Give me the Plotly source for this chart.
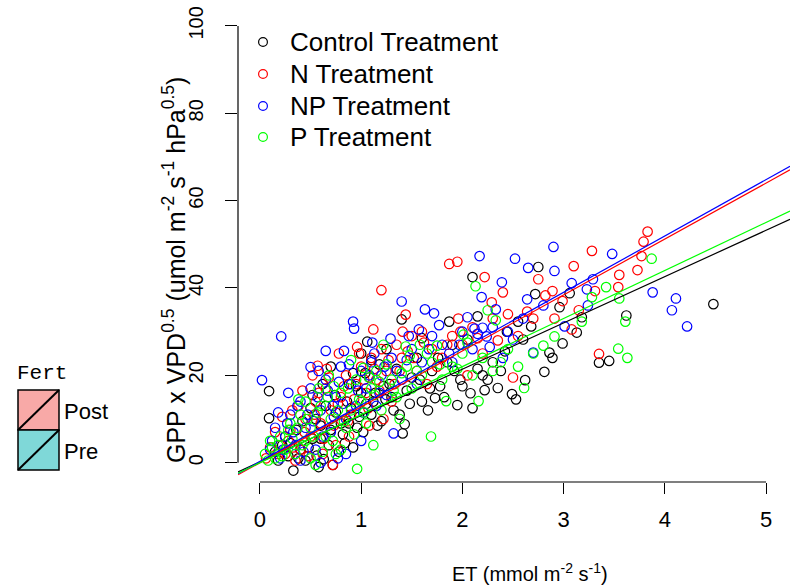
import plotly.graph_objects as go

# ---------------- data ----------------
ctrl_et = [0.09, 0.09, 0.33, 0.28, 0.40, 0.45, 0.52, 0.56, 0.60, 0.63, 0.68, 0.72, 0.75, 0.78, 0.82, 0.86, 0.88, 0.92,
           0.95, 0.98, 1.02, 1.05, 1.08, 1.10, 1.14, 1.18, 1.20, 1.24, 1.28, 1.32, 1.35, 1.41, 1.43, 1.45, 1.50, 1.55,
           1.60, 1.66, 1.70, 1.73, 1.78, 1.85, 1.95, 1.98, 2.05, 2.08, 2.10, 2.15, 2.22, 2.30, 2.35, 2.42, 2.49, 2.53,
           2.60, 2.62, 2.68, 2.72, 2.75, 2.81, 2.86, 2.89, 2.96, 2.99, 3.06, 3.13, 3.18, 3.35, 3.45, 3.62, 4.48, 1.06,
           1.40, 1.87, 2.15, 2.10, 2.44, 2.55, 0.62, 0.70, 0.50, 0.36, 0.22, 0.92, 1.00, 1.25, 0.18, 2.20, 1.60, 1.90]
ctrl_gpp = [16.4, 10.2, -1.8, 1.5, 3.0, 0.5, 5.5, 1.6, 8.5, 0.8, 4.0, -0.5, 11.5, 2.5, 6.5, 14.0, 9.0, 3.5,
            17.5, 10.5, 7.0, 13.5, 19.5, 11.0, 16.0, 22.5, 9.5, 14.5, 18.0, 12.0, 21.5, 6.7, 8.8, 16.5, 19.5, 24.0,
            14.0, 12.0, 21.0, 14.8, 17.5, 23.0, 13.2, 19.0, 28.2, 15.9, 12.5, 21.5, 16.6, 23.0, 17.1, 25.5, 15.7, 14.5,
            28.2, 18.9, 31.2, 38.6, 44.8, 20.8, 25.2, 24.0, 35.6, 27.3, 38.8, 29.8, 33.3, 22.9, 23.3, 33.7, 36.3, 27.7,
            32.8, 32.3, 33.5, 42.5, 30.0, 32.3, 18.0, 22.0, 12.5, 7.5, 4.0, 20.5, 25.0, 26.0, 0.5, 20.0, 28.5, 27.0]
ctrl_et += [0.15, 0.25, 0.30, 0.38, 0.42, 0.48, 0.55, 0.58, 0.65, 0.70, 0.74, 0.80, 0.84, 0.90, 0.96, 1.00, 1.04, 1.12,
            1.16, 1.22, 1.30, 1.38, 1.48, 1.58, 1.68, 1.76, 1.82, 1.92, 2.00, 2.25, 2.38, 0.52, 0.60, 0.88, 1.10]
ctrl_gpp += [2.5, 6.0, 4.5, 1.0, 9.5, 3.5, 10.0, -1.0, 13.0, 7.5, 15.5, 9.0, 4.5, 12.5, 8.0, 16.0, 20.5, 14.0,
             8.5, 17.5, 15.0, 11.0, 13.5, 19.0, 17.0, 24.0, 15.0, 21.0, 17.5, 19.0, 21.0, 15.5, 5.5, 18.0, 23.5]

n_et = [0.06, 0.15, 0.20, 0.25, 0.30, 0.35, 0.40, 0.45, 0.50, 0.52, 0.55, 0.57, 0.60, 0.65, 0.70, 0.72, 0.75, 0.80,
        0.85, 0.90, 0.95, 1.00, 1.05, 1.10, 1.15, 1.20, 1.22, 1.25, 1.30, 1.35, 1.40, 1.41, 1.44, 1.50, 1.55, 1.60,
        1.70, 1.80, 1.90, 1.96, 2.00, 2.10, 2.20, 2.29, 2.35, 2.45, 2.55, 2.64, 2.70, 1.20, 1.87, 1.95, 2.22, 2.40,
        2.75, 2.82, 2.89, 2.91, 2.99, 3.08, 3.10, 3.15, 3.28, 3.31, 3.35, 3.54, 3.55, 3.73, 3.77, 3.79, 3.83, 0.32,
        0.42, 0.88, 1.08, 0.62, 0.78, 1.65, 2.05, 2.50, 0.10]
n_gpp = [1.0, 7.0, 4.0, 2.0, 7.5, 0.5, 3.0, 10.0, 6.0, 20.0, 14.0, 22.2, 9.0, 17.0, 12.0, -0.5, 4.0, 15.0,
         20.0, 11.0, 18.0, 22.0, 16.0, 24.0, 19.0, 26.0, 10.0, 21.0, 14.0, 27.0, 24.0, 30.0, 33.9, 29.0, 21.0, 30.0,
         26.0, 24.0, 29.0, 33.0, 27.0, 31.0, 25.0, 36.7, 28.0, 34.0, 29.0, 34.6, 33.0, 39.5, 45.5, 46.0, 42.5, 39.0,
         42.0, 38.3, 39.3, 33.0, 37.0, 30.5, 45.0, 34.9, 48.5, 39.3, 24.9, 40.2, 43.0, 44.1, 47.3, 50.6, 52.9, 12.0,
         16.5, 6.0, 8.5, 2.0, 25.0, 18.0, 20.0, 19.5, 3.5]
n_et += [0.18, 0.22, 0.28, 0.33, 0.38, 0.44, 0.48, 0.54, 0.58, 0.63, 0.68, 0.73, 0.77, 0.83, 0.87, 0.93, 0.98, 1.03,
         1.07, 1.13, 1.18, 1.27, 1.33, 1.38, 1.46, 1.52, 1.62, 1.75, 1.85, 1.98, 2.15, 2.30, 0.66, 0.96, 1.12]
n_gpp += [2.0, 10.5, 5.0, 3.5, 13.0, 7.0, 1.5, 11.0, 16.0, 5.5, 19.5, 8.5, 13.5, 17.5, 9.5, 14.5, 25.0, 19.0,
          12.5, 21.5, 16.5, 23.5, 18.0, 21.0, 25.5, 24.0, 27.5, 22.0, 27.0, 30.0, 28.5, 33.0, 21.5, 26.5, 30.5]

np_et = [0.02, 0.21, 0.10, 0.15, 0.20, 0.25, 0.30, 0.35, 0.40, 0.45, 0.50, 0.50, 0.55, 0.60, 0.65, 0.65, 0.70, 0.75,
         0.80, 0.83, 0.85, 0.90, 0.92, 0.93, 0.95, 1.00, 1.05, 1.10, 1.11, 1.15, 1.20, 1.29, 1.30, 1.32, 1.40, 1.40,
         1.50, 1.60, 1.63, 1.70, 1.72, 1.80, 1.90, 2.00, 2.05, 2.10, 2.12, 2.17, 2.19, 2.20, 2.24, 2.30, 2.33, 2.39,
         2.40, 2.50, 2.52, 2.60, 2.64, 2.65, 2.70, 2.80, 2.90, 2.91, 3.01, 3.08, 3.23, 3.24, 3.29, 3.48, 3.88, 4.07,
         4.11, 4.22, 0.40, 0.60, 0.85, 1.00, 0.28, 0.72, 1.25, 1.55]
np_gpp = [18.9, 28.9, 3.0, 8.0, 1.0, 6.0, 11.0, 4.0, 14.0, 8.0, 17.0, 21.9, 3.0, 12.0, 19.0, 25.6, 7.0, 15.0,
          22.0, 25.6, 10.0, 18.0, 32.3, 30.7, 13.0, 21.0, 17.0, 23.0, 27.5, 13.0, 20.0, 28.4, 24.0, 6.7, 19.0, 36.9,
          26.0, 23.0, 35.1, 29.0, 34.2, 27.0, 23.0, 30.0, 33.3, 26.0, 30.7, 47.3, 37.9, 30.9, 28.9, 31.0, 35.1, 41.3,
          24.0, 28.2, 46.7, 33.0, 37.4, 44.6, 25.2, 36.0, 49.4, 43.9, 31.2, 41.1, 39.7, 36.0, 42.0, 47.8, 39.0, 34.9,
          37.6, 31.2, 0.5, 0.0, 2.0, 5.0, 16.0, 13.0, 15.5, 18.0]
np_et += [0.12, 0.18, 0.23, 0.27, 0.33, 0.37, 0.43, 0.47, 0.53, 0.57, 0.62, 0.67, 0.73, 0.78, 0.82, 0.88, 0.97, 1.02,
          1.08, 1.13, 1.18, 1.23, 1.35, 1.45, 1.47, 1.57, 1.67, 1.77, 1.87, 1.97, 2.15, 2.27, 2.45, 0.58, 0.77]
np_gpp += [5.0, 11.5, 3.0, 9.0, 7.0, 13.0, 2.5, 11.0, 9.5, 15.0, 6.0, 16.5, 10.5, 18.5, 13.5, 22.5, 16.5, 11.5,
           20.0, 25.0, 16.0, 22.0, 21.0, 23.5, 29.0, 30.5, 26.0, 31.5, 25.0, 27.0, 29.5, 26.5, 30.0, 21.0, 1.0]

p_et = [0.05, 0.10, 0.15, 0.20, 0.25, 0.30, 0.35, 0.40, 0.45, 0.50, 0.50, 0.55, 0.60, 0.65, 0.70, 0.75, 0.80, 0.80,
        0.85, 0.90, 0.95, 0.96, 1.00, 1.02, 1.05, 1.10, 1.15, 1.20, 1.22, 1.30, 1.35, 1.44, 1.45, 1.50, 1.58, 1.60,
        1.69, 1.70, 1.75, 1.80, 1.84, 1.90, 2.00, 2.01, 2.10, 2.13, 2.16, 2.20, 2.25, 2.30, 2.33, 2.45, 2.55, 2.61,
        2.70, 2.80, 2.91, 3.18, 3.28, 3.42, 3.54, 3.55, 3.61, 3.63, 3.87, 0.58, 0.38, 0.68, 1.12, 0.90, 1.38]
p_gpp = [2.0, 5.0, 1.0, 6.0, 3.0, 9.0, 2.0, 11.0, 5.0, 8.0, 1.0, -0.5, 13.0, 6.0, 10.0, 2.0, 16.0, 3.0,
         8.0, 12.0, 19.0, -1.4, 14.0, 21.7, 9.0, 17.0, 21.0, 12.0, 27.0, 19.0, 15.0, 26.6, 22.0, 17.0, 27.0, 20.0,
         6.0, 23.0, 26.8, 19.0, 14.1, 22.0, 25.0, 29.3, 20.0, 40.4, 14.1, 24.0, 34.9, 21.0, 32.6, 26.0, 22.0, 17.1,
         25.0, 26.8, 28.9, 32.3, 37.9, 40.2, 26.1, 37.6, 32.3, 24.0, 46.7, 17.0, 14.5, 20.0, 4.0, 23.5, 10.0]
p_et += [0.08, 0.12, 0.18, 0.22, 0.28, 0.32, 0.37, 0.42, 0.47, 0.53, 0.57, 0.62, 0.67, 0.72, 0.77, 0.83, 0.87, 0.93,
         0.98, 1.03, 1.08, 1.13, 1.18, 1.25, 1.32, 1.40, 1.48, 1.55, 1.65, 1.78, 1.95, 2.05, 2.38, 0.45, 0.73]
p_gpp += [0.5, 3.5, 4.0, 1.5, 7.5, 5.5, 8.0, 4.0, 10.0, 6.0, 11.5, 2.5, 15.0, 5.0, 12.0, 9.5, 17.0, 6.5,
          14.5, 11.5, 19.5, 15.5, 18.5, 22.5, 16.5, 20.5, 24.5, 21.0, 25.0, 22.5, 21.5, 27.5, 23.0, 14.0, 17.5]

treatments = ["Control Treatment", "N Treatment", "NP Treatment", "P Treatment"]
colors = ["#000000", "#FF0000", "#0000FF", "#00FF00"]
fit_intercepts = [0.2, 0.0, 0.3, 0.0]
fit_slopes = [10.6, 12.8, 12.9, 11.0]

x_ticks = [0, 1, 2, 3, 4, 5]
y_ticks = [0, 20, 40, 60, 80, 100]
fert_levels = ["Post", "Pre"]
fert_fills = ["#F8A9A7", "#7FD8D8"]

# ---------------- layout geometry ----------------
W, H = 793, 586
ML, MR, MT, MB = 238, 3, 8, 104
XR = [-0.217, 5.237]
YR = [-4.42, 104.1]
PW, PH = W - ML - MR, H - MT - MB


def px(x):
    return (x - ML) / PW


def py(y):
    return (H - MB - y) / PH


FONT = "Arial, Liberation Sans, sans-serif"

fig = go.Figure()
series = [(ctrl_et, ctrl_gpp), (n_et, n_gpp), (np_et, np_gpp), (p_et, p_gpp)]
for name, col, (xs, ys) in zip(treatments, colors, series):
    fig.add_trace(go.Scatter(x=xs, y=ys, mode="markers", name=name, showlegend=False,
                             marker=dict(symbol="circle-open", size=9.5, color=col, line=dict(width=1.2, color=col)),
                             cliponaxis=True))

for col, a, b in zip(colors, fit_intercepts, fit_slopes):
    fig.add_trace(go.Scatter(x=XR, y=[a + b * XR[0], a + b * XR[1]], mode="lines",
                             line=dict(color=col, width=1.2), showlegend=False, hoverinfo="skip"))

shapes = []
annotations = []
# R-style axis lines spanning the tick range only
shapes.append(dict(type="line", xref="x", yref="paper", x0=x_ticks[0], x1=x_ticks[-1], y0=0, y1=0,
                   line=dict(color="black", width=1.2)))
shapes.append(dict(type="line", xref="paper", yref="y", x0=0, x1=0, y0=y_ticks[0], y1=y_ticks[-1],
                   line=dict(color="black", width=1.2)))

# treatment legend (R style: open circles + labels)
leg_rows = [42, 74, 106, 137]
leg_mx, leg_r, leg_tx = 263, 4.4, 288
for name, col, ry in zip(treatments, colors, leg_rows):
    shapes.append(dict(type="circle", xref="paper", yref="paper",
                       x0=px(leg_mx - leg_r), x1=px(leg_mx + leg_r), y0=py(ry + leg_r), y1=py(ry - leg_r),
                       line=dict(color=col, width=1.2)))
    annotations.append(dict(xref="paper", yref="paper", x=px(leg_tx), y=py(ry), text=name, showarrow=False,
                            xanchor="left", yanchor="middle", font=dict(family=FONT, size=26, color="black")))

# Fert legend (boxes with diagonal strokes)
box_l, box_r = 18, 59
box_tops = [390, 430]
box_h = 40
for lvl, fill, top in zip(fert_levels, fert_fills, box_tops):
    shapes.append(dict(type="rect", xref="paper", yref="paper", x0=px(box_l), x1=px(box_r),
                       y0=py(top + box_h), y1=py(top), fillcolor=fill, line=dict(color="black", width=1.5)))
    shapes.append(dict(type="line", xref="paper", yref="paper", x0=px(box_l), x1=px(box_r),
                       y0=py(top + box_h), y1=py(top), line=dict(color="black", width=2)))
    annotations.append(dict(xref="paper", yref="paper", x=px(62), y=py(top + box_h / 2 + 1), text=lvl,
                            showarrow=False, xanchor="left", yanchor="middle",
                            font=dict(family=FONT, size=22, color="black")))
annotations.append(dict(xref="paper", yref="paper", x=px(15), y=py(373), text="Fert", showarrow=False,
                        xanchor="left", yanchor="middle",
                        font=dict(family="Liberation Mono, Courier New, monospace", size=21, color="black")))

# axis titles
annotations.append(dict(xref="paper", yref="paper", x=px(530), y=py(572),
                        text="ET (mmol m<sup>-2</sup> s<sup>-1</sup>)", showarrow=False,
                        xanchor="center", yanchor="middle", font=dict(family=FONT, size=20, color="black")))
annotations.append(dict(xref="paper", yref="paper", x=px(174), y=py(270), textangle=-90,
                        text="GPP x VPD<sup>0.5</sup> (umol m<sup>-2</sup> s<sup>-1</sup> hPa<sup>0.5</sup>)",
                        showarrow=False, xanchor="center", yanchor="middle",
                        font=dict(family=FONT, size=25, color="black")))

fig.update_layout(
    width=W, height=H, margin=dict(l=ML, r=MR, t=MT, b=MB),
    plot_bgcolor="white", paper_bgcolor="white",
    showlegend=False,
    shapes=shapes, annotations=annotations,
    xaxis=dict(range=XR, showgrid=False, zeroline=False, showline=False, tickmode="array",
               tickvals=x_ticks, ticks="outside", ticklen=11, tickwidth=1.2, tickcolor="black",
               tickfont=dict(family=FONT, size=22, color="black"), ticklabelstandoff=7),
    yaxis=dict(range=YR, showgrid=False, zeroline=False, showline=False, tickmode="array",
               tickvals=y_ticks, ticks="outside", ticklen=12, tickwidth=1.2, tickcolor="black",
               tickangle=-90, tickfont=dict(family=FONT, size=20, color="black"), ticklabelstandoff=14),
)

fig.write_html("out.html", config={"displayModeBar": False},
               post_script="document.body.style.margin='0px';document.body.style.overflow='hidden';")
